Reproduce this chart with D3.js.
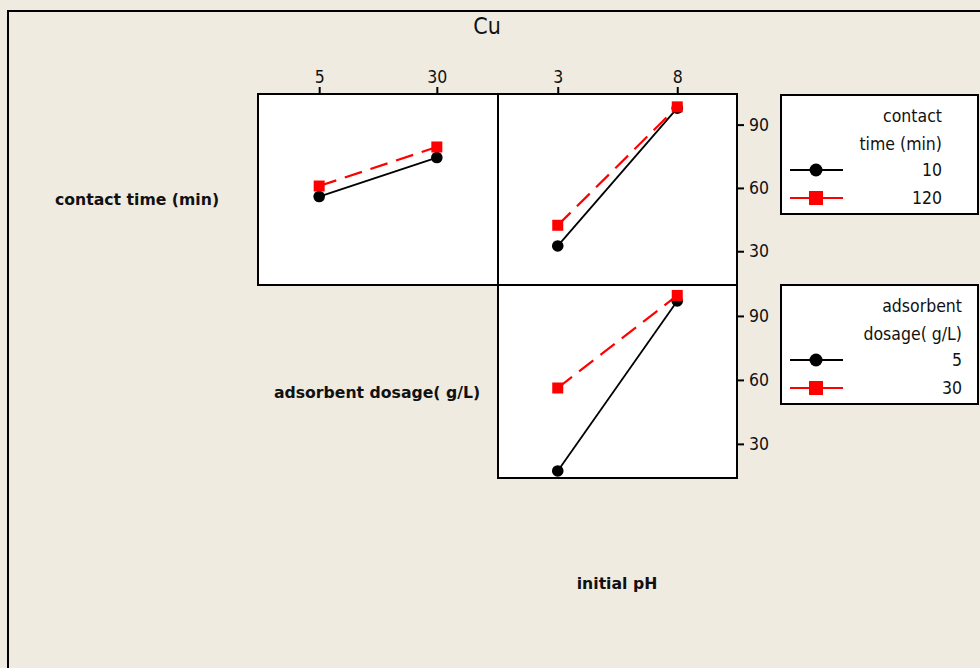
<!DOCTYPE html>
<html>
<head>
<meta charset="utf-8">
<script src="https://cdn.jsdelivr.net/npm/d3@7"></script>
<style>
  body { margin: 0; background: #efebe1; }
  svg { display: block; }
  text { font-family: "DejaVu Sans Condensed", "DejaVu Sans", sans-serif; fill: #111; }
  .lab { font-family: "DejaVu Sans", sans-serif; font-weight: bold; font-size: 15.7px; }
</style>
</head>
<body>
<svg width="980" height="668"></svg>
<script>
const dosageLevels = ["5", "30"];
const phLevels = ["3", "8"];
const yTicks = [30, 60, 90];

// contact time (min) lines, plotted against adsorbent dosage
const time10_vsDosage = [55.9, 74.4];
const time120_vsDosage = [60.9, 79.4];
// contact time (min) lines, plotted against initial pH
const time10_vsPH = [32.5, 97.8];
const time120_vsPH = [42.3, 98.4];
// adsorbent dosage lines, plotted against initial pH
const dose5_vsPH = [17.3, 97.0];
const dose30_vsPH = [56.2, 99.6];

const svg = d3.select("svg");

// outer frame
svg.append("rect")
    .attr("x", 8).attr("y", 11)
    .attr("width", 1000).attr("height", 700)
    .attr("fill", "#efebe1")
    .attr("stroke", "#000").attr("stroke-width", 2);

svg.append("text")
    .attr("x", 487).attr("y", 34)
    .attr("text-anchor", "middle")
    .style("font-size", "23px")
    .text("Cu");

const colX = [[258, 498], [498, 737]];
const rowY = [[94, 285], [285, 478]];

const xDose = d3.scalePoint().domain(dosageLevels).range(colX[0]).padding(0.52);
const xPH = d3.scalePoint().domain(phLevels).range(colX[1]).padding(0.5);

const yRow = rowY.map(r => d3.scaleLinear().domain([14, 104.5]).range([r[1], r[0]]));

function panel(x, y, blackVals, redVals) {
    const g = svg.append("g");
    const [x0, x1] = x.range();
    const [y1, y0] = y.range();
    g.append("rect")
        .attr("x", x0).attr("y", y0)
        .attr("width", x1 - x0).attr("height", y1 - y0)
        .attr("fill", "#fff").attr("stroke", "#000").attr("stroke-width", 2);

    const line = d3.line().x(d => x(d[0])).y(d => y(d[1]));
    const dom = x.domain();
    const black = dom.map((k, i) => [k, blackVals[i]]);
    const red = dom.map((k, i) => [k, redVals[i]]);

    g.append("path").datum(black).attr("d", line)
        .attr("fill", "none").attr("stroke", "#000").attr("stroke-width", 1.8);
    g.append("path").datum(red).attr("d", line)
        .attr("fill", "none").attr("stroke", "#ff0000").attr("stroke-width", 2.2)
        .attr("stroke-dasharray", "18,9");

    g.selectAll("circle").data(black).enter().append("circle")
        .attr("cx", d => x(d[0])).attr("cy", d => y(d[1]))
        .attr("r", 5.8).attr("fill", "#000");
    g.selectAll("rect.sq").data(red).enter().append("rect")
        .attr("class", "sq")
        .attr("x", d => x(d[0]) - 5.5).attr("y", d => y(d[1]) - 5.5)
        .attr("width", 11).attr("height", 11).attr("fill", "#ff0000");
}

panel(xDose, yRow[0], time10_vsDosage, time120_vsDosage);
panel(xPH, yRow[0], time10_vsPH, time120_vsPH);
panel(xPH, yRow[1], dose5_vsPH, dose30_vsPH);

function styleAxis(g) {
    g.select(".domain").remove();
    g.selectAll("line").attr("stroke", "#000").attr("stroke-width", 2);
    g.selectAll("text").style("font-size", "17.5px").style("font-family", "'DejaVu Sans Condensed', sans-serif").attr("fill", "#111");
}

svg.append("g")
    .attr("transform", `translate(0,${rowY[0][0]})`)
    .call(d3.axisTop(xDose).tickSize(7).tickPadding(4))
    .call(styleAxis);
svg.append("g")
    .attr("transform", `translate(0,${rowY[0][0]})`)
    .call(d3.axisTop(xPH).tickSize(7).tickPadding(4))
    .call(styleAxis);

yRow.forEach(y => {
    svg.append("g")
        .attr("transform", `translate(${colX[1][1]},0)`)
        .call(d3.axisRight(y).tickValues(yTicks).tickSize(7).tickPadding(5))
        .call(styleAxis);
});

// diagonal factor labels
svg.append("text").attr("class", "lab")
    .attr("x", 137).attr("y", 205).attr("text-anchor", "middle")
    .text("contact time (min)");
svg.append("text").attr("class", "lab")
    .attr("x", 377).attr("y", 398).attr("text-anchor", "middle")
    .text("adsorbent dosage( g/L)");
svg.append("text").attr("class", "lab")
    .attr("x", 617).attr("y", 589).attr("text-anchor", "middle")
    .text("initial pH");

// legends
const legends = [
    { top: 95, titleLines: ["contact", "time (min)"], items: ["10", "120"], right: 942 },
    { top: 285, titleLines: ["adsorbent", "dosage( g/L)"], items: ["5", "30"], right: 962 }
];

legends.forEach(L => {
    const g = svg.append("g");
    g.append("rect")
        .attr("x", 781).attr("y", L.top)
        .attr("width", 197).attr("height", 119)
        .attr("fill", "#fff").attr("stroke", "#000").attr("stroke-width", 2);
    L.titleLines.forEach((t, i) => {
        g.append("text")
            .attr("x", L.right).attr("y", L.top + 27 + i * 28)
            .attr("text-anchor", "end")
            .style("font-size", "17.5px")
            .text(t);
    });
    L.items.forEach((t, i) => {
        const cy = L.top + 75 + i * 28;
        g.append("text")
            .attr("x", L.right).attr("y", cy + 6)
            .attr("text-anchor", "end")
            .style("font-size", "17.5px")
            .text(t);
        g.append("line")
            .attr("x1", 790).attr("x2", 843).attr("y1", cy).attr("y2", cy)
            .attr("stroke", i === 0 ? "#000" : "#ff0000").attr("stroke-width", 2);
        if (i === 0) {
            g.append("circle").attr("cx", 816).attr("cy", cy).attr("r", 6.5).attr("fill", "#000");
        } else {
            g.append("rect").attr("x", 809).attr("y", cy - 7)
                .attr("width", 14).attr("height", 14).attr("fill", "#ff0000");
        }
    });
});
</script>
</body>
</html>
